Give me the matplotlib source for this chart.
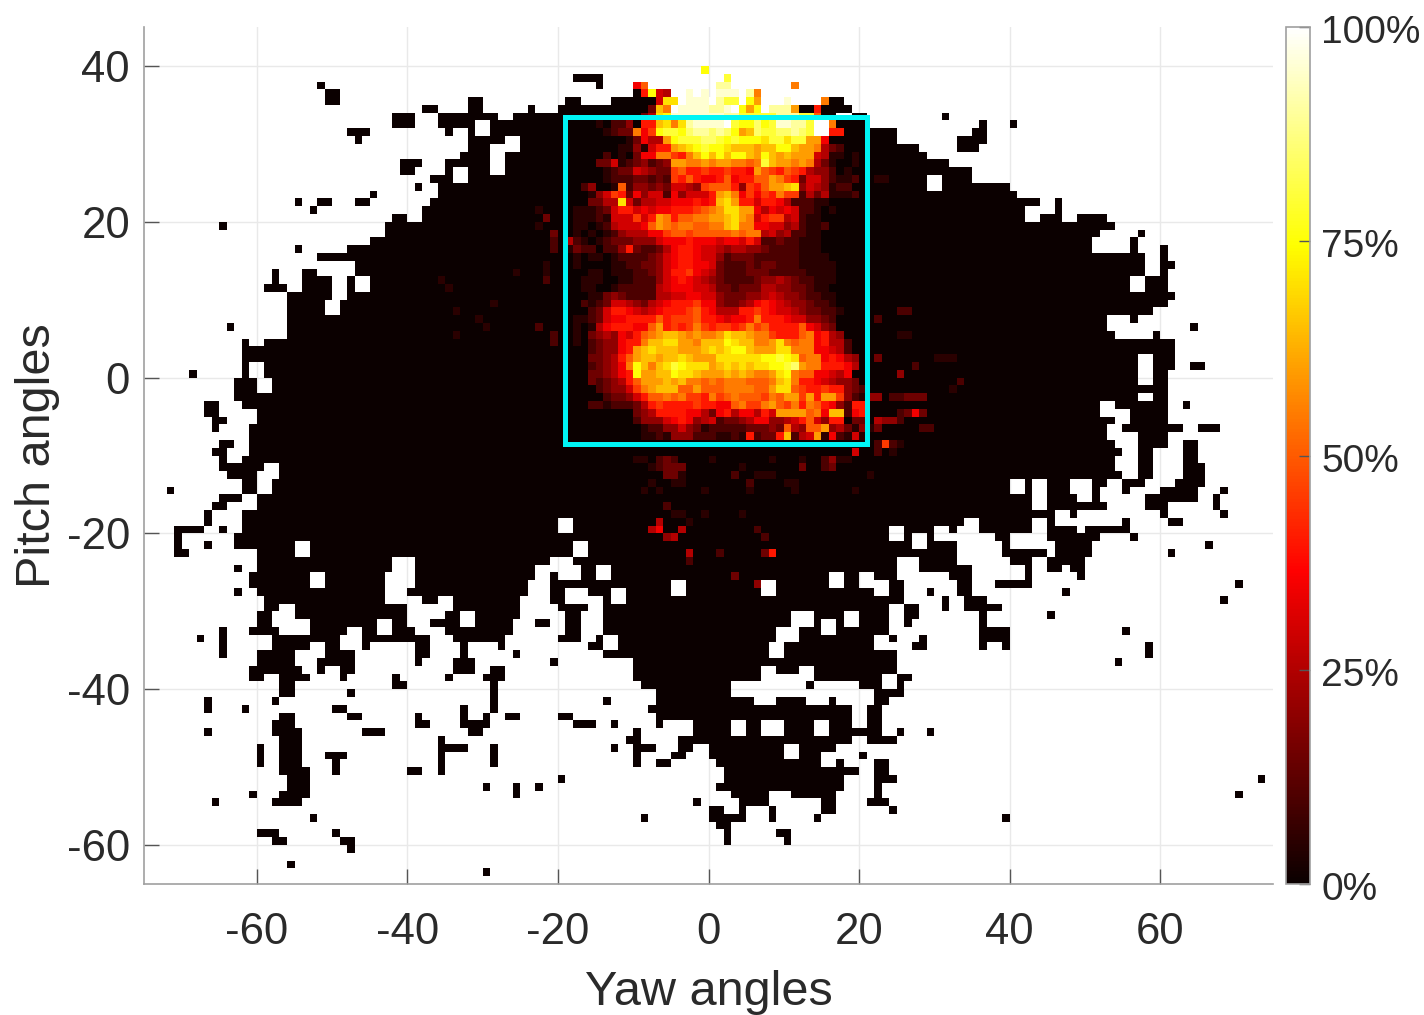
import numpy as np
import matplotlib
matplotlib.use('Agg')
import matplotlib.pyplot as plt
from matplotlib.patches import Rectangle
from matplotlib.transforms import ScaledTranslation

plt.rcParams['font.family'] = ['Liberation Sans', 'DejaVu Sans']
plt.rcParams['axes.unicode_minus'] = False

# 1 degree bins, row 0 is the top of the plot (pitch 45), col 0 is yaw -75
yaw_edges = np.arange(-75, 76)
pitch_edges = np.arange(45, -66, -1)

x_ticks = [-60, -40, -20, 0, 20, 40, 60]
y_ticks = [-60, -40, -20, 0, 20, 40]
cbar_ticks = [0, 25, 50, 75, 100]
cbar_labels = ['0%', '25%', '50%', '75%', '100%']

# cyan box: yaw from, yaw to, pitch from, pitch to
box_yaw = [-19, 21]
box_pitch = [-8.5, 33.5]

# bins with any data (value 0 unless set below), row -> inclusive column spans
covered = {
    6: [(57, 60)],
    7: [(23, 23), (60, 60)],
    8: [(24, 25), (65, 65)],
    9: [(24, 25), (43, 44), (56, 57), (62, 67), (91, 92)],
    10: [(37, 38), (43, 44), (51, 51), (55, 68), (90, 93)],
    11: [(33, 35), (39, 46), (49, 91), (94, 95), (106, 106)],
    12: [(33, 35), (39, 43), (46, 91), (94, 95), (111, 111), (115, 115)],
    13: [(27, 29), (40, 40), (43, 43), (46, 99), (110, 111)],
    14: [(28, 28), (43, 47), (50, 99), (108, 111)],
    15: [(43, 45), (50, 102), (108, 110)],
    16: [(42, 45), (48, 103)],
    17: [(34, 36), (40, 45), (48, 106)],
    18: [(34, 35), (40, 40), (43, 45), (48, 109)],
    19: [(38, 40), (43, 103), (106, 109)],
    20: [(36, 36), (39, 103), (106, 114)],
    21: [(30, 30), (39, 115)],
    22: [(20, 20), (23, 24), (28, 29), (38, 118), (121, 121)],
    23: [(22, 22), (37, 116), (121, 121)],
    24: [(33, 34), (37, 116), (119, 121), (124, 127)],
    25: [(10, 10), (32, 128)],
    26: [(32, 126), (132, 132)],
    27: [(30, 125), (131, 131)],
    28: [(20, 20), (27, 125), (131, 131), (135, 135)],
    29: [(23, 132), (135, 135)],
    30: [(28, 132), (135, 136)],
    31: [(17, 17), (21, 22), (28, 132), (135, 135)],
    32: [(17, 17), (21, 24), (27, 27), (30, 130), (133, 135)],
    33: [(16, 18), (21, 24), (27, 27), (30, 130), (133, 135)],
    34: [(19, 24), (27, 136)],
    35: [(19, 23), (26, 135)],
    36: [(19, 23), (26, 133)],
    37: [(19, 127), (131, 131)],
    38: [(11, 11), (19, 127), (139, 139)],
    39: [(19, 128), (134, 134)],
    40: [(13, 13), (16, 136)],
    41: [(13, 136)],
    42: [(13, 131), (134, 136)],
    43: [(13, 13), (16, 131), (134, 136), (139, 140)],
    44: [(6, 6), (13, 13), (16, 131), (134, 135)],
    45: [(12, 14), (17, 131), (134, 135)],
    46: [(12, 14), (17, 135)],
    47: [(12, 131), (134, 135)],
    48: [(8, 9), (13, 126), (129, 135), (138, 138)],
    49: [(8, 9), (15, 126), (131, 135)],
    50: [(9, 10), (15, 128), (131, 135)],
    51: [(9, 9), (14, 127), (130, 137), (140, 142)],
    52: [(14, 127), (132, 135)],
    53: [(10, 11), (14, 128), (132, 135), (138, 139)],
    54: [(9, 10), (14, 129), (132, 133), (138, 139)],
    55: [(10, 10), (13, 128), (132, 133), (138, 139)],
    56: [(10, 15), (18, 128), (132, 133), (138, 140)],
    57: [(11, 14), (18, 129), (132, 133), (138, 140)],
    58: [(13, 14), (17, 114), (117, 117), (120, 122), (126, 127), (130, 132), (137, 140)],
    59: [(3, 3), (13, 14), (17, 114), (117, 117), (120, 122), (126, 126), (130, 130), (135, 139), (143, 143)],
    60: [(10, 12), (15, 117), (120, 123), (126, 126), (133, 139), (142, 142)],
    61: [(9, 10), (15, 117), (120, 127), (133, 135), (142, 142)],
    62: [(8, 8), (13, 120), (123, 123), (135, 135), (143, 143)],
    63: [(8, 8), (13, 54), (57, 108), (111, 117), (120, 120), (130, 130), (136, 137)],
    64: [(4, 7), (10, 10), (13, 54), (57, 98), (101, 104), (107, 107), (111, 117), (120, 123), (125, 130)],
    65: [(4, 4), (12, 98), (101, 101), (104, 104), (113, 114), (120, 126), (131, 131)],
    66: [(4, 4), (8, 8), (12, 19), (22, 56), (59, 101), (104, 107), (114, 114), (121, 125), (141, 141)],
    67: [(4, 5), (15, 19), (22, 56), (59, 107), (114, 119), (121, 125), (136, 136)],
    68: [(15, 32), (36, 53), (57, 99), (103, 107), (115, 117), (120, 124)],
    69: [(12, 12), (15, 32), (36, 51), (58, 59), (62, 99), (103, 109), (117, 117), (120, 121), (123, 124)],
    70: [(14, 21), (24, 31), (36, 51), (54, 54), (58, 59), (62, 90), (93, 94), (97, 99), (107, 109), (117, 117), (124, 124)],
    71: [(14, 21), (24, 31), (36, 50), (54, 69), (72, 81), (84, 90), (93, 94), (99, 100), (108, 109), (113, 117), (145, 145)],
    72: [(12, 12), (15, 31), (35, 50), (54, 55), (59, 61), (64, 69), (72, 81), (84, 96), (99, 100), (104, 104), (108, 109), (122, 122)],
    73: [(16, 31), (37, 38), (41, 49), (54, 55), (61, 61), (64, 100), (106, 106), (109, 111), (143, 143)],
    74: [(16, 17), (20, 34), (41, 49), (55, 58), (61, 98), (101, 102), (106, 106), (109, 113)],
    75: [(15, 16), (20, 34), (40, 41), (44, 49), (56, 57), (61, 85), (89, 92), (95, 98), (101, 102), (111, 111), (120, 120)],
    76: [(15, 16), (22, 30), (33, 34), (38, 41), (44, 48), (52, 53), (56, 57), (61, 85), (89, 89), (92, 92), (95, 98), (101, 101), (111, 111)],
    77: [(10, 10), (14, 17), (22, 26), (29, 30), (33, 35), (40, 48), (56, 57), (61, 83), (87, 89), (92, 98), (111, 114), (130, 130)],
    78: [(7, 7), (10, 10), (17, 25), (29, 37), (41, 47), (55, 57), (60, 60), (63, 83), (87, 96), (99, 99), (103, 103), (111, 114)],
    79: [(10, 10), (17, 21), (24, 25), (29, 29), (36, 37), (42, 42), (47, 47), (59, 60), (63, 82), (85, 96), (102, 103), (111, 111), (114, 114), (133, 133)],
    80: [(10, 10), (15, 19), (24, 27), (36, 37), (42, 42), (49, 49), (61, 82), (85, 99), (133, 133)],
    81: [(15, 19), (23, 27), (36, 36), (41, 43), (54, 54), (65, 99), (129, 129)],
    82: [(14, 20), (23, 23), (26, 27), (41, 43), (46, 47), (65, 81), (84, 86), (89, 99)],
    83: [(14, 15), (18, 21), (26, 26), (33, 33), (40, 40), (45, 47), (65, 81), (89, 97), (100, 101)],
    84: [(18, 19), (33, 34), (46, 46), (66, 77), (88, 88), (95, 97), (100, 100)],
    85: [(18, 19), (27, 27), (46, 46), (68, 77), (97, 100)],
    86: [(8, 8), (17, 17), (46, 46), (61, 61), (68, 80), (84, 87), (91, 91), (97, 98)],
    87: [(8, 8), (13, 13), (25, 26), (42, 42), (46, 46), (67, 93), (96, 97)],
    88: [(18, 19), (27, 28), (36, 36), (42, 42), (45, 45), (48, 49), (55, 56), (68, 93), (96, 97)],
    89: [(17, 19), (36, 37), (42, 45), (57, 59), (62, 62), (68, 68), (73, 77), (80, 81), (85, 88), (91, 93), (96, 97)],
    90: [(8, 8), (17, 20), (29, 31), (43, 44), (65, 65), (73, 77), (80, 81), (85, 88), (91, 97), (100, 100), (104, 104)],
    91: [(18, 20), (39, 39), (64, 65), (71, 93), (96, 99)],
    92: [(15, 15), (18, 20), (39, 42), (46, 46), (62, 62), (65, 67), (71, 72), (75, 84), (87, 91)],
    93: [(15, 15), (18, 20), (24, 26), (39, 39), (46, 46), (65, 65), (70, 71), (75, 84), (87, 89), (95, 95)],
    94: [(15, 15), (18, 20), (25, 25), (39, 39), (46, 46), (65, 65), (68, 69), (76, 89), (92, 92), (97, 98)],
    95: [(18, 21), (25, 25), (35, 36), (39, 39), (77, 94), (97, 98)],
    96: [(19, 21), (55, 55), (77, 92), (97, 99), (148, 148)],
    97: [(19, 21), (45, 45), (49, 49), (52, 52), (76, 92), (97, 97)],
    98: [(14, 14), (18, 21), (49, 49), (78, 82), (86, 91), (97, 97), (145, 145)],
    99: [(9, 9), (17, 20), (73, 73), (79, 82), (90, 91), (96, 98)],
    100: [(75, 76), (79, 79), (83, 83), (90, 91), (99, 99)],
    101: [(22, 22), (66, 66), (75, 79), (83, 83), (89, 89), (114, 114)],
    102: [(76, 77)],
    103: [(15, 17), (25, 25), (77, 77), (84, 85)],
    104: [(17, 18), (26, 27), (77, 77), (85, 85)],
    105: [(27, 27)],
    107: [(19, 19)],
    108: [(45, 45)],
}

# hot area read off by eye, one base-21 digit per bin, each step is 5%
# first string is row 5, first char is col 56, '.' leaves the bin as it is
hot_first_row = 5
hot_first_col = 56
hot_rows = [
    "..................f",
    ".....................g",
    ".........7a.........ii........b",
    ".........08f65..j.j.jjj.ib",
    "............6eekjjjkiggkfc...j....b",
    "...........3dbkjjjjiijkfcfkiiic008",
    "..........35efjjjjjjjiigggggiiigga",
    "000010224088debeijjjjkgffhfgjjiigkkb00",
    "000001233b79fggfhiihihfcdhgghhihgkk88000",
    "0000000013755cfggghhgfgfffeggeggcc7000",
    "00000001141688cdefgffedddcddffdccb532000",
    "000002010377bb98bdfdfdffdcfdcdccc6511010",
    "00003361234234ccbbcbccbbabgdccbcb5310010",
    "00000123365433" "9a889889887" "ca98a985442010",
    "00000122233232" "98a8778a788aacb98" "36642112",
    "00" "24001a244343" "6654" "9aaa84" "98accde" "4654" "1220",
    "000" "1469837466274666" "8cdb79798b99" "25351112",
    "000" "3355e63556677787" "8dec8868875" "222110",
    "0111236886767788" "89abceecc75767622101",
    "011121666968cb8aabbccdecb68995621100",
    "01101256667acbabbaabbdebb77664521120",
    "0101012455577" "9aa9aaaaababb" "56452211000",
    "521012333444677787776776862232211100",
    "132202248322357887665455443222211100",
    "010110122223467887664233322222211110",
    "0100001122334678877632223233222111110",
    "0001101112234688976532223332222211110",
    "001110011222467876543222234454322111",
    "00110012222256777665332333554433211",
    "0001134322225566776643334456544322110",
    "002123665435678889774334578765443221",
    "00023688765678889a8755588987665433221",
    "011236778888a8999a8876778b8887664432",
    "010157888" "77" "ac8989b989989b9a8888a7643",
    "0103" "45476" "8abcddcbcbbceddcbb9888ab7854",
    "0102344788bddeeccbdddfeddbbcebabb78552",
    "000234478cdedddcccdedeffdccceebbb77652",
    "00033458acddcddedccceeeeeeffgfeabb78754",
    "00023457bfdbdegfeeecdededeeffghcbb88875",
    "000334578fccddfeedcccdcdcbbcefbaa77657",
    "000323458acccdcdbbababbbaaabdeb88765443",
    "0000234469bcdddaacaaabbbbaaceea988988432",
    "00000233468aabab998b9abaaa9bacc9c8cc94214",
    "0002212223589888898877ab99bca9b8ba874288",
    ".........3458888775378577586ccccab7dd278",
    ".........24446787456233457744568a6488033",
    "..........1224464312222233343a54aac453141",
    "..........1121444222112182338d256c172161",
]

# scattered coloured bins outside the strings above
sparse_rows = [23, 24, 25, 26, 27, 28, 30, 31, 31, 32, 33, 32, 36, 35, 37, 38, 38, 39, 39, 40, 19, 19,
               36, 36, 37, 39, 39, 42, 42, 42, 45, 46, 44, 43, 42,
               47, 47, 47, 47, 47, 47, 49, 49, 49, 49, 50, 50, 50, 50, 51, 51, 51, 53, 53, 53, 53,
               54, 54, 54, 55, 55, 55, 55, 55, 55, 55, 55, 55, 55, 55, 55,
               56, 56, 56, 56, 56, 56, 56, 56, 56, 57, 57, 57, 57, 57, 57, 57, 57,
               58, 58, 58, 58, 58, 58, 59, 59, 59, 59, 59, 59,
               61, 62, 62, 62, 62, 63, 63, 64, 64, 64, 64, 65, 65, 65, 67, 67, 67, 67, 68, 70, 71]
sparse_cols = [52, 53, 52, 54, 54, 54, 53, 53, 49, 39, 40, 53, 41, 46, 44, 45, 52, 54, 41, 54, 97, 98,
               100, 101, 97, 100, 101, 105, 106, 107, 108, 107, 100, 102, 97,
               97, 99, 100, 101, 102, 103, 100, 101, 102, 103, 97, 98, 99, 100, 97, 103, 104, 97, 98, 99, 100,
               94, 97, 99, 65, 66, 68, 69, 70, 75, 83, 87, 90, 91, 92, 93,
               67, 68, 69, 70, 71, 79, 87, 90, 91, 69, 70, 71, 78, 81, 82, 83, 96,
               67, 70, 71, 80, 85, 86, 66, 68, 74, 80, 86, 94,
               69, 70, 71, 74, 79, 68, 72, 67, 68, 71, 81, 69, 70, 82, 72, 76, 82, 83, 72, 78, 81]
sparse_levels = [1, 3, 1, 3, 2, 2, 1, 1, 1, 1, 1, 2, 1, 1, 1, 1, 2, 2, 1, 2, 1, 1,
                 2, 2, 2, 1, 1, 1, 1, 1, 2, 1, 4, 2, 3,
                 4, 2, 2, 3, 3, 3, 2, 3, 7, 3, 5, 4, 4, 2, 3, 2, 2, 2, 9, 2, 1,
                 6, 2, 1, 1, 1, 2, 3, 2, 1, 1, 1, 2, 4, 1, 1,
                 1, 2, 3, 3, 3, 1, 3, 2, 3, 3, 3, 1, 2, 1, 1, 1, 1,
                 1, 1, 1, 2, 1, 1, 1, 1, 1, 1, 1, 1,
                 2, 1, 1, 1, 1, 5, 1, 5, 7, 5, 2, 4, 5, 2, 5, 2, 3, 8, 2, 3, 4]

# build the grid
grid = np.full((len(pitch_edges) - 1, len(yaw_edges) - 1), np.nan)
for row, spans in covered.items():
    for start, end in spans:
        grid[row, start:end + 1] = 0
for i, text in enumerate(hot_rows):
    for j, ch in enumerate(text):
        if ch != '.':
            grid[hot_first_row + i, hot_first_col + j] = int(ch, 21) * 5
for row, col, level in zip(sparse_rows, sparse_cols, sparse_levels):
    grid[row, col] = level * 5

fig = plt.figure(figsize=(14.24, 10.15), dpi=100)
ax = fig.add_axes([144 / 1424, 131 / 1015, 1129 / 1424, 857 / 1015])

cmap = plt.get_cmap('hot').copy()
cmap.set_bad((1, 1, 1, 0))
mesh = ax.pcolormesh(yaw_edges, pitch_edges, np.ma.masked_invalid(grid), cmap=cmap, vmin=0, vmax=100)

ax.add_patch(Rectangle((box_yaw[0], box_pitch[0]), box_yaw[1] - box_yaw[0], box_pitch[1] - box_pitch[0],
                       fill=False, edgecolor='#00f5f5', linewidth=3.6, zorder=5))

ax.set_xlim(-75, 75)
ax.set_ylim(-65, 45)
ax.set_xticks(x_ticks)
ax.set_yticks(y_ticks)
ax.set_axisbelow(True)
ax.grid(True, color='#e9e9e9', linewidth=1)
ax.tick_params(direction='in', length=11, width=1, color='#555555', labelcolor='#2a2a2a', labelsize=31.5, pad=10)
ax.tick_params(axis='x', pad=20)
for side in ['top', 'right']:
    ax.spines[side].set_visible(False)
for side in ['left', 'bottom']:
    ax.spines[side].set_color('#a0a0a0')
    ax.spines[side].set_linewidth(1.2)

ax.set_xlabel('Yaw angles', fontsize=35, color='#2a2a2a', va='top')
ax.xaxis.set_label_coords(0.5, -0.1)
ax.set_ylabel('Pitch angles', fontsize=35, color='#2a2a2a', va='bottom')
ax.yaxis.set_label_coords(-0.074, 0.5)

cax = fig.add_axes([1286 / 1424, 131 / 1015, 24 / 1424, 857 / 1015])
cbar = fig.colorbar(mesh, cax=cax)
cbar.set_ticks(cbar_ticks)
cbar.set_ticklabels(cbar_labels)
cbar.ax.tick_params(direction='in', length=8, width=1, color='#555555', labelcolor='#2a2a2a', labelsize=28, pad=8)
cbar.outline.set_edgecolor('#a0a0a0')
cbar.outline.set_linewidth(1.2)
for label in cbar.ax.get_yticklabels():
    label.set_transform(label.get_transform() + ScaledTranslation(0, -2 / 100, fig.dpi_scale_trans))

fig.savefig('out.png', dpi=100)
